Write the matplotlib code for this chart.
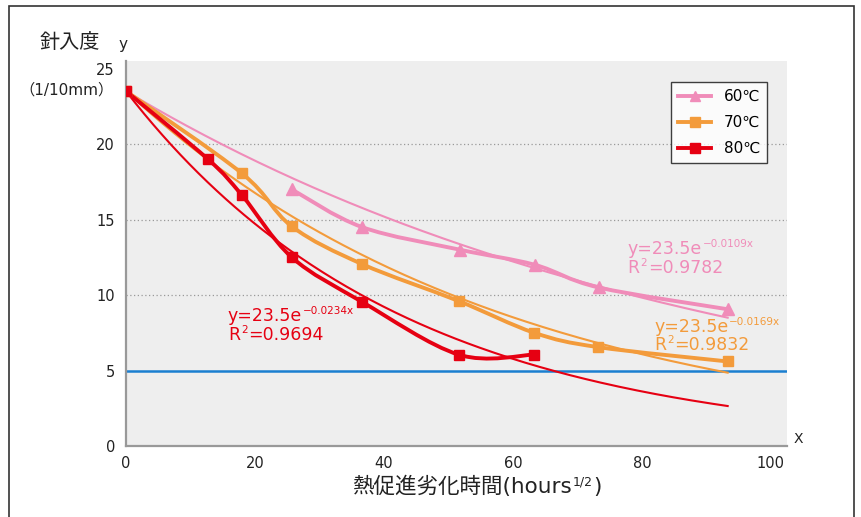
import matplotlib
matplotlib.use("Agg")
import matplotlib.pyplot as plt
import numpy as np
from matplotlib.path import Path
from matplotlib.patches import PathPatch, Rectangle
from matplotlib.lines import Line2D

plt.rcParams['font.family'] = ['DejaVu Sans', 'Noto Sans CJK JP']

# ---- data ----
series_names = ['60℃', '70℃', '80℃']
x60 = [25.7, 36.6, 51.8, 63.4, 73.3, 93.4]
y60 = [17.0, 14.5, 13.0, 12.0, 10.5, 9.05]
x70 = [0, 18.0, 25.7, 36.6, 51.6, 63.3, 73.2, 93.3]
y70 = [23.5, 18.05, 14.55, 12.05, 9.6, 7.5, 6.55, 5.6]
x80 = [0, 12.7, 18.0, 25.7, 36.6, 51.6, 63.3]
y80 = [23.5, 19.0, 16.6, 12.5, 9.55, 6.05, 6.05]
fit_a = [23.5, 23.5, 23.5]
fit_k = [0.0109, 0.0169, 0.0234]
fit_r2 = ['0.9782', '0.9832', '0.9694']
fit_xmax = 93.3
threshold = 5
xticks = [0, 20, 40, 60, 80, 100]
yticks = [0, 5, 10, 15, 20, 25]

colors = ['#f08cb9', '#f39b3b', '#e60012']
markers = ['^', 's', 's']

fig = plt.figure(figsize=(8.62, 5.17), dpi=100)
fig.patch.set_facecolor('white')
# outer frame
fig.add_artist(Rectangle((9/862, -0.05), (854-9)/862, 1.05 - 6/517, transform=fig.transFigure,
                         fill=False, edgecolor='#333333', linewidth=1.2))

ax = fig.add_axes([126/862, 1-446/517, (787-126)/862, (446-61)/517])
ax.set_facecolor('#eeeeee')
ax.set_xlim(0, 102.5)
ax.set_ylim(0, 25.5)
for s in ['top', 'right']:
    ax.spines[s].set_visible(False)
for s in ['left', 'bottom']:
    ax.spines[s].set_color('#999999')
    ax.spines[s].set_linewidth(1.6)
ax.set_xticks(xticks)
ax.set_yticks(yticks)
ax.tick_params(length=0, labelsize=10.5, colors='#222222', pad=7)
ax.tick_params(axis='y', pad=8)
for yv in [10, 15, 20]:
    ax.axhline(yv, color='#999999', linestyle=(0, (1, 2)), linewidth=0.9, zorder=1)

ax.axhline(threshold, color='#1b7fd0', linewidth=1.8, zorder=2)

# trend lines
xs = np.linspace(0, fit_xmax, 200)
for a, k, c in zip(fit_a, fit_k, colors):
    ax.plot(xs, a * np.exp(-k * xs), color=c, linewidth=1.5, zorder=3)


def smooth_path(x, y):
    x = np.asarray(x, float); y = np.asarray(y, float)
    n = len(x)
    verts = [(x[0], y[0])]
    codes = [Path.MOVETO]
    for i in range(n - 1):
        p0 = np.array([x[max(i - 1, 0)], y[max(i - 1, 0)]])
        p1 = np.array([x[i], y[i]])
        p2 = np.array([x[i + 1], y[i + 1]])
        p3 = np.array([x[min(i + 2, n - 1)], y[min(i + 2, n - 1)]])
        c1 = p1 + (p2 - p0) / 6
        c2 = p2 - (p3 - p1) / 6
        verts += [tuple(c1), tuple(c2), tuple(p2)]
        codes += [Path.CURVE4] * 3
    return Path(verts, codes)

for (x, y), c, m in zip([(x60, y60), (x70, y70), (x80, y80)], colors, markers):
    ax.add_patch(PathPatch(smooth_path(x, y), facecolor='none', edgecolor=c,
                           linewidth=2.8, zorder=4, capstyle='round', joinstyle='round'))
    ax.plot(x, y, linestyle='none', marker=m, markersize=7.5 if m == 's' else 8,
            color=c, zorder=5)


def sup_text(x, y, base, sup, rest, color, fs, sfs, transform=None, sup_dy=1.0):
    kw = {} if transform is None else {'transform': transform}
    t1 = ax.text(x, y, base, color=color, fontsize=fs, va='baseline', ha='left',
                 clip_on=False, **kw)
    t2 = ax.annotate(sup, xy=(1, 1), xycoords=t1, xytext=(0.6, sup_dy),
                     textcoords='offset points', va='top', ha='left',
                     fontsize=sfs, color=color, annotation_clip=False)
    if rest:
        ax.annotate(rest, xy=(1, 0), xycoords=(t2, t1), xytext=(0.4, 0),
                    textcoords='offset points', va='bottom', ha='left',
                    fontsize=fs, color=color, annotation_clip=False)


# annotations
ann_pos = [(77.8, 12.7, 11.45), (81.9, 7.55, 6.35), (15.8, 8.25, 7.0)]
for (ax_x, y1, y2), a, k, r2, c in zip(ann_pos, fit_a, fit_k, fit_r2, colors):
    sup_text(ax_x, y1, f'y={a}e', f'\u2212{k}x', '', c, 12.5, 7.5)
    sup_text(ax_x, y2, 'R', '2', f'={r2}', c, 12.5, 7.5)

# legend
handles = [Line2D([], [], color=c, marker=m, linewidth=2.8, markersize=7.5)
           for c, m in zip(colors, markers)]
leg = fig.legend(handles, series_names, loc='upper left',
                 bbox_to_anchor=(671/862, 1-82/517), bbox_transform=fig.transFigure,
                 borderaxespad=0, frameon=True, fancybox=False, fontsize=11,
                 handlelength=2.2, handletextpad=0.8, labelspacing=0.72, borderpad=0.45)
leg.get_frame().set_edgecolor('#111111')
leg.get_frame().set_linewidth(1.0)

# labels
fig.text(40/862, 1-43/517, '針入度', fontsize=14.5, va='center', ha='left', color='#222222')
fig.text(123/862, 1-45/517, 'y', fontsize=11, va='center', ha='center', color='#222222')
fig.text(67/862, 1-90/517, '（1/10mm）', fontsize=11, va='center', ha='center', color='#222222')
fig.text(798/862, 1-439/517, 'X', fontsize=10, va='center', ha='center', color='#222222')
sup_text(352/862, 1-493/517, '熱促進劣化時間(hours', '1/2', ')', '#222222', 15.5, 9,
         transform=fig.transFigure, sup_dy=0.0)

fig.savefig('out.png', dpi=100)
